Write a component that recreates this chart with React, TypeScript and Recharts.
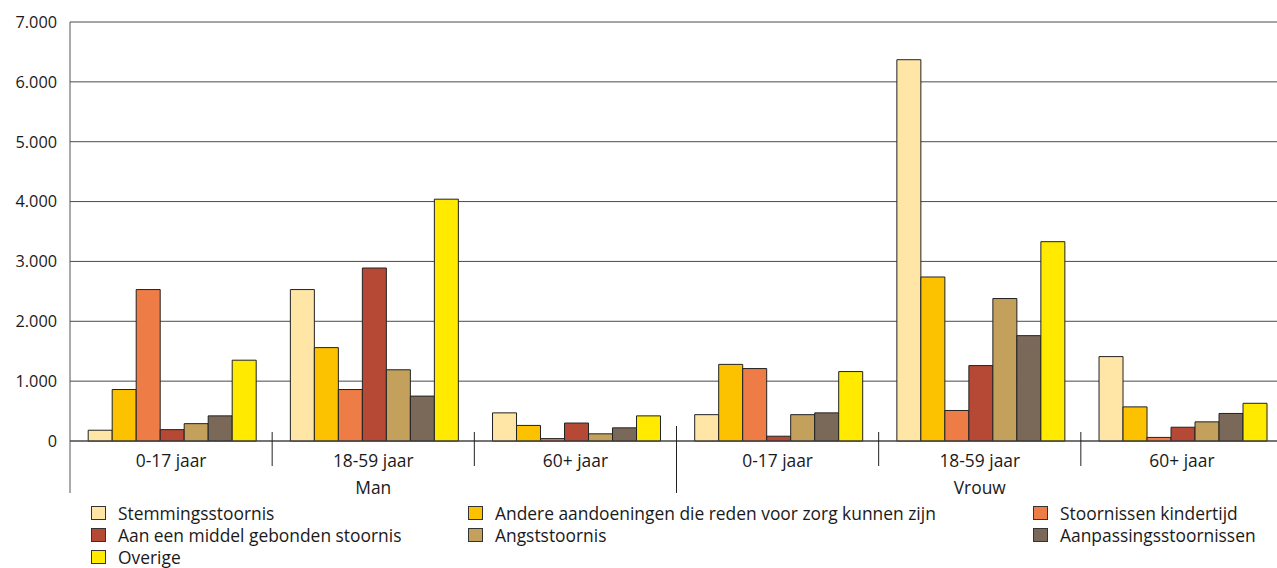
import React from "react";
import { BarChart, Bar, XAxis, YAxis, CartesianGrid } from "recharts";

const ageGroups = ["0-17 jaar", "18-59 jaar", "60+ jaar", "0-17 jaar", "18-59 jaar", "60+ jaar"];
const genders = ["Man", "Man", "Man", "Vrouw", "Vrouw", "Vrouw"];

const stemming = [180, 2530, 470, 440, 6370, 1410];
const andere = [860, 1560, 260, 1280, 2740, 570];
const kindertijd = [2530, 860, 40, 1210, 510, 60];
const middel = [190, 2890, 300, 80, 1260, 230];
const angst = [290, 1190, 120, 440, 2380, 320];
const aanpassing = [420, 750, 220, 470, 1760, 460];
const overige = [1350, 4040, 420, 1160, 3330, 630];

const yTicks = [0, 1000, 2000, 3000, 4000, 5000, 6000, 7000];

const series = [
  { key: "stemming", name: "Stemmingsstoornis", color: "#FFE5A6", values: stemming },
  { key: "andere", name: "Andere aandoeningen die reden voor zorg kunnen zijn", color: "#FCC200", values: andere },
  { key: "kindertijd", name: "Stoornissen kindertijd", color: "#ED7C46", values: kindertijd },
  { key: "middel", name: "Aan een middel gebonden stoornis", color: "#B54935", values: middel },
  { key: "angst", name: "Angststoornis", color: "#C4A05D", values: angst },
  { key: "aanpassing", name: "Aanpassingsstoornissen", color: "#7A6959", values: aanpassing },
  { key: "overige", name: "Overige", color: "#FFEA00", values: overige },
];

const data = ageGroups.map((age, i) => {
  const row: Record<string, any> = { age, gender: genders[i], idx: i };
  series.forEach((s) => {
    row[s.key] = s.values[i];
  });
  return row;
});

const FONT = "'Open Sans', 'Noto Sans', sans-serif";
const FS = 16.3;
const FS_TXT = 17.4;
const TEXT = "#1a1a1a";

const fmt = (v: number) => (v === 0 ? "0" : v.toLocaleString("de-DE"));

const CategoryTick = (props: any) => {
  const { x, y, payload } = props;
  const i: number = payload?.index ?? props.index ?? 0;
  const half: number = payload?.offset ?? 0;
  const n = ageGroups.length;
  const parts: React.ReactNode[] = [];
  parts.push(
    <text key="t" x={x} y={y + 26} textAnchor="middle" fill={TEXT} fontSize={FS_TXT} fontFamily={FONT}>
      {ageGroups[i]}
    </text>
  );
  if (i % 3 === 1) {
    parts.push(
      <text key="g" x={x} y={y + 53} textAnchor="middle" fill={TEXT} fontSize={FS_TXT} fontFamily={FONT}>
        {genders[i]}
      </text>
    );
  }
  if (i < n - 1) {
    const long = i === 2;
    parts.push(
      <line
        key="s"
        x1={x + half}
        x2={x + half}
        y1={y - (long ? 15 : 9)}
        y2={y + (long ? 52 : 25)}
        stroke="#222"
        strokeWidth={1}
      />
    );
  }
  if (i === 0) {
    parts.push(<line key="l" x1={x - half} x2={x - half} y1={y} y2={y + 52} stroke="#555" strokeWidth={1} />);
  }
  return <g>{parts}</g>;
};

const legendRows = [
  [series[0], series[1], series[2]],
  [series[3], series[4], series[5]],
  [series[6]],
];
const legendCols = [91, 468, 1033];

export default function App() {
  return (
    <div style={{ position: "absolute", left: 0, top: 0, width: 1277, height: 568, overflow: "hidden", background: "#fff" }}>
      <BarChart
        width={1283}
        height={568}
        data={data}
        margin={{ top: 22, right: 0, bottom: 0, left: 0 }}
        barCategoryGap="9%"
        barGap={0}
      >
        <CartesianGrid horizontal vertical={false} stroke="#4a4a4a" strokeWidth={1} />
        <YAxis
          width={70}
          domain={[0, 7000]}
          ticks={yTicks}
          interval={0}
          tickFormatter={fmt}
          axisLine={{ stroke: "#555" }}
          tickLine={false}
          tickMargin={7}
          tick={{ fill: TEXT, fontSize: FS, fontFamily: FONT }}
        />
        <XAxis
          dataKey="age"
          height={127}
          interval={0}
          axisLine={{ stroke: "#444" }}
          tickLine={false}
          tickSize={0}
          tickMargin={0}
          tick={<CategoryTick />}
        />
        {series.map((s) => (
          <Bar key={s.key} dataKey={s.key} name={s.name} fill={s.color} stroke="#222" strokeWidth={1} isAnimationActive={false} />
        ))}
      </BarChart>
      {legendRows.map((row, r) =>
        row.map((s, c) => (
          <div
            key={s.key}
            style={{
              position: "absolute",
              left: legendCols[c],
              top: 504 + r * 22,
              height: 18,
              display: "flex",
              alignItems: "center",
              fontFamily: FONT,
              fontSize: FS_TXT,
              color: TEXT,
              whiteSpace: "nowrap",
            }}
          >
            <span
              style={{
                display: "inline-block",
                width: 13,
                height: 12,
                background: s.color,
                border: "1px solid #333",
                marginRight: 12,
              }}
            />
            {s.name}
          </div>
        ))
      )}
    </div>
  );
}
